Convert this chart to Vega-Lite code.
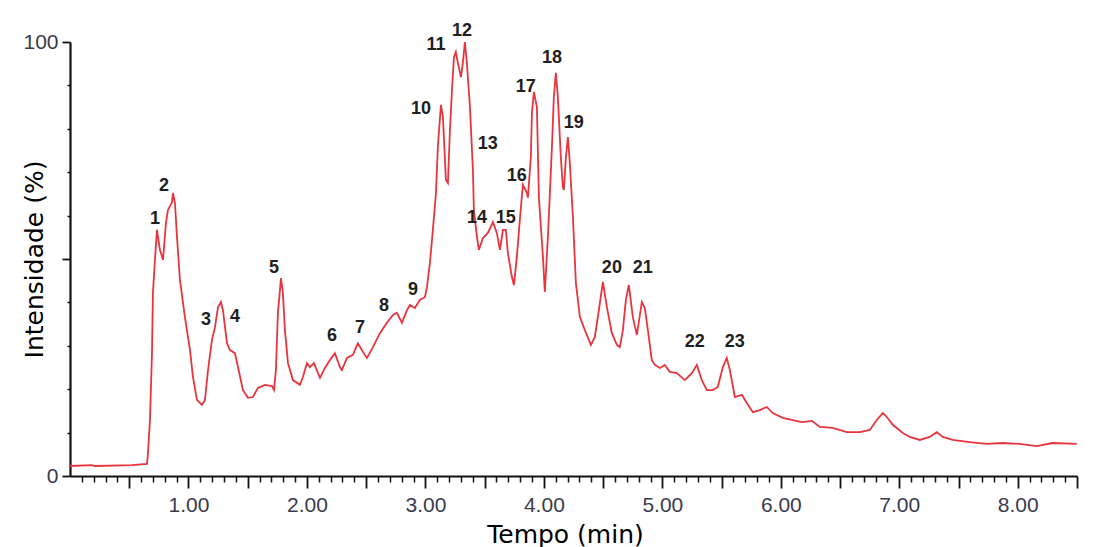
{
  "$schema": "https://vega.github.io/schema/vega-lite/v6.json",
  "width": 1007,
  "height": 434,
  "autosize": {"type": "none"},
  "padding": {"left": 70, "top": 42, "right": 17, "bottom": 71},
  "background": "white",
  "config": {"view": {"stroke": null}},
  "datasets": {
    "curve": [
      {"t":0.000,"I":2.3},{"t":0.186,"I":2.5},{"t":0.211,"I":2.3},{"t":0.523,"I":2.5},{"t":0.650,"I":2.8},
      {"t":0.658,"I":5.3},{"t":0.675,"I":12.9},{"t":0.692,"I":28.3},{"t":0.700,"I":42.2},{"t":0.717,"I":49.8},
      {"t":0.734,"I":56.7},{"t":0.759,"I":52.1},{"t":0.785,"I":49.8},{"t":0.810,"I":58.3},{"t":0.827,"I":61.3},
      {"t":0.861,"I":63.1},{"t":0.869,"I":65.2},{"t":0.886,"I":62.9},{"t":0.903,"I":55.1},{"t":0.928,"I":45.2},
      {"t":0.970,"I":36.6},{"t":1.013,"I":29.0},{"t":1.038,"I":22.8},{"t":1.072,"I":17.5},{"t":1.114,"I":16.4},
      {"t":1.139,"I":17.5},{"t":1.165,"I":24.4},{"t":1.198,"I":31.3},{"t":1.224,"I":34.3},{"t":1.249,"I":38.9},
      {"t":1.274,"I":40.1},{"t":1.291,"I":38.2},{"t":1.325,"I":30.6},{"t":1.350,"I":29.0},{"t":1.392,"I":28.3},
      {"t":1.418,"I":25.1},{"t":1.460,"I":19.8},{"t":1.502,"I":18.0},{"t":1.544,"I":18.2},{"t":1.586,"I":20.3},
      {"t":1.646,"I":21.0},{"t":1.705,"I":20.7},{"t":1.722,"I":19.8},{"t":1.738,"I":24.4},{"t":1.755,"I":37.6},
      {"t":1.781,"I":45.6},{"t":1.797,"I":42.2},{"t":1.814,"I":33.6},{"t":1.840,"I":26.0},{"t":1.882,"I":22.1},
      {"t":1.941,"I":21.0},{"t":1.966,"I":22.8},{"t":2.000,"I":26.0},{"t":2.025,"I":25.1},{"t":2.059,"I":26.0},
      {"t":2.110,"I":22.6},{"t":2.152,"I":24.9},{"t":2.194,"I":26.7},{"t":2.236,"I":28.3},{"t":2.278,"I":25.1},
      {"t":2.295,"I":24.4},{"t":2.338,"I":27.2},{"t":2.388,"I":27.9},{"t":2.430,"I":30.6},{"t":2.473,"I":28.6},
      {"t":2.506,"I":27.2},{"t":2.557,"I":29.7},{"t":2.616,"I":32.9},{"t":2.675,"I":35.3},{"t":2.726,"I":37.1},
      {"t":2.759,"I":37.6},{"t":2.802,"I":35.3},{"t":2.844,"I":38.2},{"t":2.869,"I":39.4},{"t":2.911,"I":38.7},
      {"t":2.954,"I":40.6},{"t":2.996,"I":41.2},{"t":3.013,"I":43.5},{"t":3.038,"I":49.1},{"t":3.063,"I":56.7},
      {"t":3.089,"I":65.2},{"t":3.105,"I":75.8},{"t":3.131,"I":85.5},{"t":3.148,"I":82.7},{"t":3.173,"I":68.2},
      {"t":3.190,"I":67.5},{"t":3.207,"I":79.7},{"t":3.224,"I":88.9},{"t":3.241,"I":96.5},{"t":3.257,"I":97.7},
      {"t":3.274,"I":95.2},{"t":3.300,"I":91.9},{"t":3.316,"I":95.2},{"t":3.333,"I":100.0},{"t":3.350,"I":95.2},
      {"t":3.376,"I":85.0},{"t":3.401,"I":70.5},{"t":3.409,"I":61.3},{"t":3.435,"I":55.1},{"t":3.451,"I":52.1},
      {"t":3.485,"I":54.8},{"t":3.527,"I":56.0},{"t":3.570,"I":58.5},{"t":3.603,"I":56.0},{"t":3.629,"I":52.1},
      {"t":3.654,"I":56.7},{"t":3.679,"I":56.7},{"t":3.696,"I":51.4},{"t":3.730,"I":45.9},{"t":3.747,"I":44.0},
      {"t":3.772,"I":50.5},{"t":3.797,"I":59.0},{"t":3.823,"I":67.1},{"t":3.857,"I":65.2},{"t":3.865,"I":64.1},
      {"t":3.890,"I":73.5},{"t":3.899,"I":83.6},{"t":3.916,"I":88.5},{"t":3.941,"I":85.0},{"t":3.958,"I":64.1},
      {"t":3.992,"I":50.5},{"t":4.008,"I":42.4},{"t":4.034,"I":55.1},{"t":4.068,"I":75.8},{"t":4.084,"I":87.3},
      {"t":4.101,"I":92.9},{"t":4.118,"I":87.3},{"t":4.143,"I":73.5},{"t":4.160,"I":66.6},{"t":4.169,"I":65.9},
      {"t":4.186,"I":73.5},{"t":4.203,"I":78.1},{"t":4.219,"I":72.1},{"t":4.245,"I":59.7},{"t":4.270,"I":44.5},
      {"t":4.304,"I":36.6},{"t":4.346,"I":33.6},{"t":4.397,"I":30.2},{"t":4.430,"I":32.0},{"t":4.464,"I":38.2},
      {"t":4.498,"I":44.7},{"t":4.532,"I":38.9},{"t":4.574,"I":32.9},{"t":4.616,"I":30.2},{"t":4.641,"I":29.7},
      {"t":4.667,"I":33.6},{"t":4.692,"I":40.6},{"t":4.717,"I":44.0},{"t":4.751,"I":36.6},{"t":4.785,"I":32.5},
      {"t":4.827,"I":40.1},{"t":4.852,"I":38.7},{"t":4.878,"I":33.6},{"t":4.911,"I":26.7},{"t":4.937,"I":25.6},
      {"t":4.979,"I":24.9},{"t":5.021,"I":25.6},{"t":5.063,"I":24.0},{"t":5.122,"I":23.7},{"t":5.190,"I":22.1},
      {"t":5.249,"I":23.7},{"t":5.291,"I":25.6},{"t":5.333,"I":22.1},{"t":5.376,"I":19.8},{"t":5.426,"I":19.8},
      {"t":5.468,"I":20.5},{"t":5.511,"I":25.1},{"t":5.544,"I":27.2},{"t":5.570,"I":24.4},{"t":5.612,"I":18.2},
      {"t":5.671,"I":18.7},{"t":5.713,"I":16.8},{"t":5.764,"I":14.7},{"t":5.823,"I":15.2},{"t":5.882,"I":15.9},
      {"t":5.932,"I":14.5},{"t":6.017,"I":13.4},{"t":6.101,"I":12.9},{"t":6.177,"I":12.4},{"t":6.262,"I":12.7},
      {"t":6.329,"I":11.3},{"t":6.439,"I":11.1},{"t":6.557,"I":10.1},{"t":6.667,"I":10.1},{"t":6.751,"I":10.6},
      {"t":6.810,"I":12.9},{"t":6.861,"I":14.5},{"t":6.895,"I":13.6},{"t":6.945,"I":11.8},{"t":7.030,"I":9.9},
      {"t":7.089,"I":9.0},{"t":7.173,"I":8.3},{"t":7.257,"I":9.0},{"t":7.316,"I":10.1},{"t":7.367,"I":9.0},
      {"t":7.451,"I":8.3},{"t":7.595,"I":7.8},{"t":7.738,"I":7.4},{"t":7.873,"I":7.6},{"t":8.017,"I":7.4},
      {"t":8.160,"I":6.9},{"t":8.295,"I":7.6},{"t":8.498,"I":7.4}
    ],
    "peaks": [
      {"label":"1","t":0.717,"I":59.2},{"label":"2","t":0.793,"I":66.8},{"label":"3","t":1.148,"I":35.9},
      {"label":"4","t":1.392,"I":36.6},{"label":"5","t":1.722,"I":47.9},{"label":"6","t":2.211,"I":32.3},
      {"label":"7","t":2.447,"I":34.1},{"label":"8","t":2.650,"I":39.2},{"label":"9","t":2.895,"I":42.9},
      {"label":"10","t":2.962,"I":84.6},{"label":"11","t":3.089,"I":99.3},{"label":"12","t":3.308,"I":102.5},
      {"label":"13","t":3.527,"I":76.5},{"label":"14","t":3.435,"I":59.4},{"label":"15","t":3.679,"I":59.4},
      {"label":"16","t":3.772,"I":69.1},{"label":"17","t":3.848,"I":89.6},{"label":"18","t":4.068,"I":96.3},
      {"label":"19","t":4.253,"I":81.3},{"label":"20","t":4.574,"I":47.9},{"label":"21","t":4.835,"I":47.9},
      {"label":"22","t":5.274,"I":30.9},{"label":"23","t":5.612,"I":30.9}
    ]
  },
  "resolve": {"axis": {"x": "independent", "y": "independent"}},
  "layer": [
    {
      "data": {"name": "curve"},
      "mark": {"type": "line", "strokeOpacity": 0},
      "encoding": {
        "x": {"field": "t", "type": "quantitative", "scale": {"domain": [0, 8.5], "nice": false, "zero": false},
          "axis": {"orient": "bottom", "values": [0.1,0.2,0.3,0.4,0.6,0.7,0.8,0.9,1.1,1.2,1.3,1.4,1.6,1.7,1.8,1.9,2.1,2.2,2.3,2.4,2.6,2.7,2.8,2.9,3.1,3.2,3.3,3.4,3.6,3.7,3.8,3.9,4.1,4.2,4.3,4.4,4.6,4.7,4.8,4.9,5.1,5.2,5.3,5.4,5.6,5.7,5.8,5.9,6.1,6.2,6.3,6.4,6.6,6.7,6.8,6.9,7.1,7.2,7.3,7.4,7.6,7.7,7.8,7.9,8.1,8.2,8.3,8.4],
            "labels": false, "domain": false, "grid": false, "title": null, "tickSize": 6, "tickColor": "#111", "tickWidth": 1.5}},
        "y": {"field": "I", "type": "quantitative", "scale": {"domain": [0, 100], "nice": false},
          "axis": {"orient": "left", "values": [10,20,30,40,60,70,80,90], "labels": false, "domain": false, "grid": false, "title": null, "tickSize": 3, "tickColor": "#111", "tickWidth": 1.5}}
      }
    },
    {
      "data": {"name": "curve"},
      "mark": {"type": "line", "color": "#e8353d", "strokeWidth": 1.8},
      "encoding": {
        "x": {"field": "t", "type": "quantitative", "scale": {"domain": [0, 8.5], "nice": false, "zero": false},
          "axis": {"orient": "bottom", "values": [0.5,1,1.5,2,2.5,3,3.5,4,4.5,5,5.5,6,6.5,7,7.5,8,8.5],
            "labelExpr": "datum.value % 1 == 0 ? format(datum.value, '.2f') : ''",
            "grid": false, "domainColor": "#111", "domainWidth": 2.2, "tickColor": "#111", "tickWidth": 1.8, "tickSize": 12,
            "labelFont": "Liberation Sans", "labelFontSize": 21, "labelColor": "#3a3a4c", "labelPadding": 6, "labelFlush": false, "labelOverlap": false,
            "title": "Tempo (min)", "titleFont": "DejaVu Sans", "titleFontSize": 25, "titleFontWeight": "normal", "titleColor": "#000",
            "titleX": 495, "titleY": 66, "titleAlign": "center", "titleBaseline": "alphabetic", "titleAnchor": null}},
        "y": {"field": "I", "type": "quantitative", "scale": {"domain": [0, 100], "nice": false},
          "axis": {"orient": "left", "values": [0, 50, 100],
            "labelExpr": "datum.value == 50 ? '' : datum.label",
            "grid": false, "domainColor": "#111", "domainWidth": 2.2, "tickColor": "#111", "tickWidth": 1.8, "tickSize": 8,
            "labelFont": "Liberation Sans", "labelFontSize": 21, "labelColor": "#3a3a4c", "labelPadding": 4, "labelFlush": false, "labelOverlap": false,
            "title": "Intensidade (%)", "titleFont": "DejaVu Sans", "titleFontSize": 25, "titleFontWeight": "normal", "titleColor": "#000",
            "titleAngle": -90, "titleX": -36, "titleY": 217, "titleAlign": "center", "titleBaseline": "middle", "titleAnchor": null}}
      }
    },
    {
      "data": {"name": "peaks"},
      "mark": {"type": "text", "font": "Liberation Sans", "fontWeight": "bold", "fontSize": 18, "color": "#1e1e1e", "align": "center", "baseline": "middle"},
      "encoding": {
        "x": {"field": "t", "type": "quantitative", "scale": {"domain": [0, 8.5], "nice": false, "zero": false}, "axis": null},
        "y": {"field": "I", "type": "quantitative", "scale": {"domain": [0, 100], "nice": false}, "axis": null},
        "text": {"field": "label"}
      }
    }
  ]
}
